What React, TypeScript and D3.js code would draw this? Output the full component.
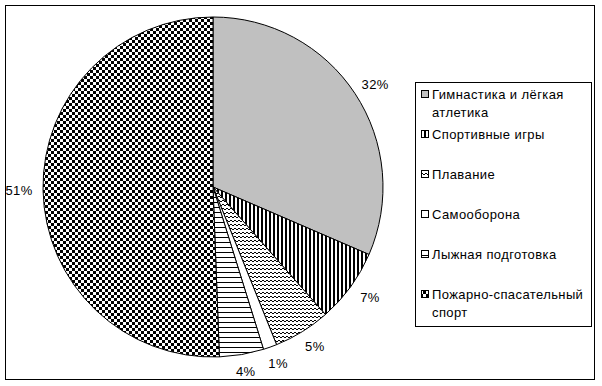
import React, { useEffect, useRef } from 'react';
import * as d3 from 'd3';

const categories = [
  'Гимнастика и лёгкая атлетика',
  'Спортивные игры',
  'Плавание',
  'Самооборона',
  'Лыжная подготовка',
  'Пожарно-спасательный спорт',
];
const shares = [31.5, 7.0, 5.4, 1.3, 4.2, 50.6];
const fills = ['gym', 'vstripe', 'zigzag', 'plain', 'hstripe', 'checker'];

const App: React.FC = () => {
  const svgRef = useRef<SVGSVGElement>(null);

  useEffect(() => {
    document.body.style.margin = '0';
    if (!svgRef.current) return;
    const svg = d3.select(svgRef.current);
    svg.selectAll('*').remove();

    const font = '"Liberation Sans", Arial, sans-serif';
    const defs = svg.append('defs');

    // pattern fills, Excel style
    defs.append('pattern').attr('id', 'gym').attr('patternUnits', 'userSpaceOnUse')
      .attr('width', 4).attr('height', 4)
      .append('rect').attr('width', 4).attr('height', 4).attr('fill', '#c0c0c0');

    const vs = defs.append('pattern').attr('id', 'vstripe').attr('patternUnits', 'userSpaceOnUse')
      .attr('width', 4).attr('height', 4);
    vs.append('rect').attr('width', 4).attr('height', 4).attr('fill', '#fff');
    vs.append('rect').attr('width', 2).attr('height', 4).attr('fill', '#000');

    const zz = defs.append('pattern').attr('id', 'zigzag').attr('patternUnits', 'userSpaceOnUse')
      .attr('width', 8).attr('height', 4);
    zz.append('rect').attr('width', 8).attr('height', 4).attr('fill', '#fff');
    zz.append('path').attr('d', 'M0,3 L2,1 L4,3 L6,1 L8,3')
      .attr('fill', 'none').attr('stroke', '#000').attr('stroke-width', 1);

    defs.append('pattern').attr('id', 'plain').attr('patternUnits', 'userSpaceOnUse')
      .attr('width', 4).attr('height', 4)
      .append('rect').attr('width', 4).attr('height', 4).attr('fill', '#fff');

    const hs = defs.append('pattern').attr('id', 'hstripe').attr('patternUnits', 'userSpaceOnUse')
      .attr('width', 4).attr('height', 5);
    hs.append('rect').attr('width', 4).attr('height', 5).attr('fill', '#fff');
    hs.append('rect').attr('y', 0).attr('width', 4).attr('height', 1).attr('fill', '#000');

    const ck = defs.append('pattern').attr('id', 'checker').attr('patternUnits', 'userSpaceOnUse')
      .attr('width', 6).attr('height', 6);
    ck.append('rect').attr('width', 6).attr('height', 6).attr('fill', '#fff');
    ck.append('rect').attr('width', 3).attr('height', 3).attr('fill', '#000');
    ck.append('rect').attr('x', 3).attr('y', 3).attr('width', 3).attr('height', 3).attr('fill', '#000');

    // outer frame
    svg.append('rect').attr('x', 5.5).attr('y', 5.5).attr('width', 589).attr('height', 374)
      .attr('fill', '#fff').attr('stroke', '#000').attr('stroke-width', 1);

    // pie
    const cx = 213, cy = 187, r = 170;
    const pie = d3.pie<number>().sort(null).value(d => d);
    const arcs = pie(shares);
    const arc = d3.arc<d3.PieArcDatum<number>>().innerRadius(0).outerRadius(r);
    const total = d3.sum(shares);

    const g = svg.append('g').attr('transform', `translate(${cx},${cy})`);
    g.selectAll('path.slice').data(arcs).enter().append('path')
      .attr('class', 'slice')
      .attr('d', arc)
      .attr('fill', (_, i) => `url(#${fills[i]})`)
      .attr('stroke', '#000').attr('stroke-width', 1);

    // labels: box placed just outside the rim, like Excel
    const gap = 11, boxW = 26, boxH = 13;
    g.selectAll('text.pct').data(arcs).enter().append('text')
      .attr('class', 'pct')
      .attr('transform', d => {
        const a = (d.startAngle + d.endAngle) / 2;
        const dx = Math.sin(a), dy = -Math.cos(a);
        const x = dx * (r + gap) + dx * boxW / 2;
        const y = dy * (r + gap) + dy * boxH / 2;
        return `translate(${x},${y})`;
      })
      .attr('text-anchor', 'middle').attr('dy', '0.35em')
      .attr('font-family', font).attr('font-size', 13).attr('letter-spacing', 0.4)
      .text(d => `${Math.round((d.value / total) * 100)}%`);

    // legend
    const lx = 415, ly = 82, lw = 176, lh = 244;
    svg.append('rect').attr('x', lx + 0.5).attr('y', ly + 0.5).attr('width', lw).attr('height', lh)
      .attr('fill', '#fff').attr('stroke', '#000').attr('stroke-width', 1);

    const maxTextW = 158;
    categories.forEach((name, i) => {
      const y0 = 94 + i * 40;
      const item = svg.append('g');
      item.append('rect').attr('x', 421.5).attr('y', y0 - 3.5).attr('width', 7).attr('height', 7)
        .attr('fill', `url(#${fills[i]})`).attr('stroke', '#000').attr('stroke-width', 1);
      const text = item.append('text').attr('font-family', font).attr('font-size', 13)
        .attr('letter-spacing', 0.4);
      // greedy word wrap
      const words = name.split(' ');
      let line: string[] = [];
      let lineNo = 0;
      let tspan = text.append('tspan').attr('x', 432).attr('y', y0).attr('dy', '0.35em');
      words.forEach(w => {
        line.push(w);
        tspan.text(line.join(' '));
        if ((tspan.node() as SVGTSpanElement).getComputedTextLength() > maxTextW && line.length > 1) {
          line.pop();
          tspan.text(line.join(' '));
          line = [w];
          lineNo += 1;
          tspan = text.append('tspan').attr('x', 432).attr('y', y0 + lineNo * 18).attr('dy', '0.35em').text(w);
        }
      });
    });
  }, []);

  return <svg ref={svgRef} width={602} height={386} style={{ display: 'block', background: '#fff' }} />;
};

export default App;
